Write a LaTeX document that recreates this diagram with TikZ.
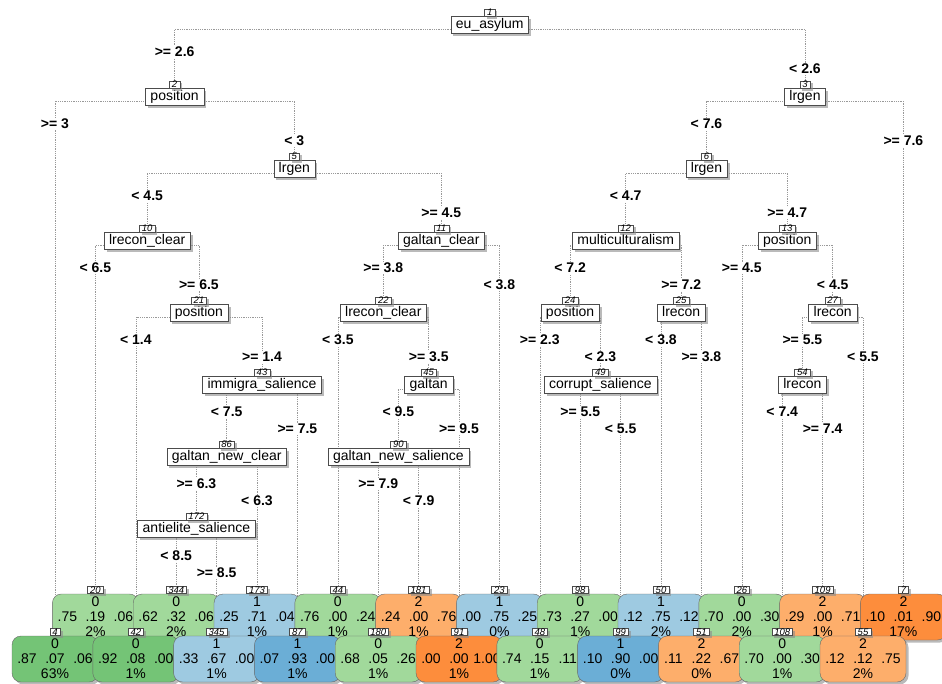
\documentclass[tikz,border=0pt]{standalone}
\usepackage{fontspec}
\setmainfont{Liberation Sans}
\usetikzlibrary{shadows,backgrounds}

\definecolor{greenA}{HTML}{A1D99B}
\definecolor{greenB}{HTML}{74C476}
\definecolor{blueA}{HTML}{9ECAE1}
\definecolor{blueB}{HTML}{6BAED6}
\definecolor{orangeA}{HTML}{FDAE6B}
\definecolor{orangeB}{HTML}{FD8D3C}

\newcommand{\probs}[3]{\makebox[28pt]{#1}\makebox[28pt]{#2}\makebox[28pt]{#3}}

\begin{document}
\begin{tikzpicture}[x=1pt,y=-1pt,font=\fontsize{14}{15}\selectfont,
  boxshadow/.style={drop shadow={shadow xshift=2.5pt,shadow yshift=-2.5pt,fill=black!45,opacity=.6}},
  nodenum/.style={draw=black!70,fill=white,font=\fontsize{9.5}{10}\selectfont\itshape,
    inner xsep=2.5pt,inner ysep=.3pt,boxshadow},
  varbox/.style={draw=black!70,fill=white,inner xsep=5pt,inner ysep=1.5pt,
    text height=10.5pt,text depth=3.5pt,boxshadow,label distance=1.5pt},
  leaf/.style={draw=black!60,rounded corners=9pt,minimum width=86pt,minimum height=46pt,
    inner sep=0pt,align=center,boxshadow,label distance=.5pt},
  cond/.style={fill=white,inner sep=1pt,font=\fontsize{14}{15}\selectfont\bfseries},
  branch/.style={draw=black!40,line width=.6pt,dash pattern=on .6pt off 1.2pt}]
  \useasboundingbox (0,0) rectangle (942,683);

  % split nodes
  \node[varbox,label={[nodenum]above:1}]   (n1)   at (489.8,25)  {eu\_asylum};
  \node[varbox,label={[nodenum]above:2}]   (n2)   at (174.6,97)  {position};
  \node[varbox,label={[nodenum]above:3}]   (n3)   at (805,97)    {lrgen};
  \node[varbox,label={[nodenum]above:5}]   (n5)   at (294.3,169) {lrgen};
  \node[varbox,label={[nodenum]above:6}]   (n6)   at (706.5,169) {lrgen};
  \node[varbox,label={[nodenum]above:10}]  (n10)  at (147.2,241) {lrecon\_clear};
  \node[varbox,label={[nodenum]above:11}]  (n11)  at (441.3,241) {galtan\_clear};
  \node[varbox,label={[nodenum]above:12}]  (n12)  at (625.7,241) {multiculturalism};
  \node[varbox,label={[nodenum]above:13}]  (n13)  at (787.2,241) {position};
  \node[varbox,label={[nodenum]above:21}]  (n21)  at (198.9,313) {position};
  \node[varbox,label={[nodenum]above:22}]  (n22)  at (383.3,313) {lrecon\_clear};
  \node[varbox,label={[nodenum]above:24}]  (n24)  at (570.1,313) {position};
  \node[varbox,label={[nodenum]above:25}]  (n25)  at (681.2,313) {lrecon};
  \node[varbox,label={[nodenum]above:27}]  (n27)  at (832.7,313) {lrecon};
  \node[varbox,label={[nodenum]above:43}]  (n43)  at (262,385)   {immigra\_salience};
  \node[varbox,label={[nodenum]above:45}]  (n45)  at (428.7,385) {galtan};
  \node[varbox,label={[nodenum]above:49}]  (n49)  at (600.4,385) {corrupt\_salience};
  \node[varbox,label={[nodenum]above:54}]  (n54)  at (802.4,385) {lrecon};
  \node[varbox,label={[nodenum]above:86}]  (n86)  at (226.7,457) {galtan\_new\_clear};
  \node[varbox,label={[nodenum]above:90}]  (n90)  at (398.4,457) {galtan\_new\_salience};
  \node[varbox,label={[nodenum]above:172}] (n172) at (196.4,529) {antielite\_salience};

  % leaves, upper row
  \node[leaf,fill=greenA,label={[nodenum]above:20}]   (n20)  at (95.4,617)  {0\\\probs{.75}{.19}{.06}\\2\%};
  \node[leaf,fill=greenA,label={[nodenum]above:344}]  (n344) at (176.2,617) {0\\\probs{.62}{.32}{.06}\\2\%};
  \node[leaf,fill=blueA,label={[nodenum]above:173}]   (n173) at (257,617)   {1\\\probs{.25}{.71}{.04}\\1\%};
  \node[leaf,fill=greenA,label={[nodenum]above:44}]   (n44)  at (337.8,617) {0\\\probs{.76}{.00}{.24}\\1\%};
  \node[leaf,fill=orangeA,label={[nodenum]above:181}] (n181) at (418.6,617) {2\\\probs{.24}{.00}{.76}\\1\%};
  \node[leaf,fill=blueA,label={[nodenum]above:23}]    (n23)  at (499.4,617) {1\\\probs{.00}{.75}{.25}\\0\%};
  \node[leaf,fill=greenA,label={[nodenum]above:98}]   (n98)  at (580.2,617) {0\\\probs{.73}{.27}{.00}\\1\%};
  \node[leaf,fill=blueA,label={[nodenum]above:50}]    (n50)  at (661,617)   {1\\\probs{.12}{.75}{.12}\\2\%};
  \node[leaf,fill=greenA,label={[nodenum]above:26}]   (n26)  at (741.8,617) {0\\\probs{.70}{.00}{.30}\\2\%};
  \node[leaf,fill=orangeA,label={[nodenum]above:109}] (n109) at (822.6,617) {2\\\probs{.29}{.00}{.71}\\1\%};
  \node[leaf,fill=orangeB,label={[nodenum]above:7}]   (n7)   at (903.4,617) {2\\\probs{.10}{.01}{.90}\\17\%};

  % leaves, lower row
  \node[leaf,fill=greenB,label={[nodenum]above:4}]    (n4)   at (55,659)    {0\\\probs{.87}{.07}{.06}\\63\%};
  \node[leaf,fill=greenB,label={[nodenum]above:42}]   (n42)  at (135.8,659) {0\\\probs{.92}{.08}{.00}\\1\%};
  \node[leaf,fill=blueA,label={[nodenum]above:345}]   (n345) at (216.6,659) {1\\\probs{.33}{.67}{.00}\\1\%};
  \node[leaf,fill=blueB,label={[nodenum]above:87}]    (n87)  at (297.4,659) {1\\\probs{.07}{.93}{.00}\\1\%};
  \node[leaf,fill=greenA,label={[nodenum]above:180}]  (n180) at (378.2,659) {0\\\probs{.68}{.05}{.26}\\1\%};
  \node[leaf,fill=orangeB,label={[nodenum]above:91}]  (n91)  at (459,659)   {2\\\probs{.00}{.00}{1.00}\\1\%};
  \node[leaf,fill=greenA,label={[nodenum]above:48}]   (n48)  at (539.8,659) {0\\\probs{.74}{.15}{.11}\\1\%};
  \node[leaf,fill=blueB,label={[nodenum]above:99}]    (n99)  at (620.6,659) {1\\\probs{.10}{.90}{.00}\\0\%};
  \node[leaf,fill=orangeA,label={[nodenum]above:51}]  (n51)  at (701.4,659) {2\\\probs{.11}{.22}{.67}\\0\%};
  \node[leaf,fill=greenA,label={[nodenum]above:108}]  (n108) at (782.2,659) {0\\\probs{.70}{.00}{.30}\\1\%};
  \node[leaf,fill=orangeA,label={[nodenum]above:55}]  (n55)  at (863,659)   {2\\\probs{.12}{.12}{.75}\\2\%};

  % split conditions
  \node[cond] (c2)   at (174.6,52)  {>= 2.6};
  \node[cond] (c3)   at (805,69)    {< 2.6};
  \node[cond] (c4)   at (55,124)    {>= 3};
  \node[cond] (c5)   at (294.3,141) {< 3};
  \node[cond] (c10)  at (147.2,196) {< 4.5};
  \node[cond] (c11)  at (441.3,213) {>= 4.5};
  \node[cond] (c20)  at (95.4,268)  {< 6.5};
  \node[cond] (c21)  at (198.9,285) {>= 6.5};
  \node[cond] (c42)  at (135.8,340) {< 1.4};
  \node[cond] (c43)  at (262,357)   {>= 1.4};
  \node[cond] (c86)  at (226.7,412) {< 7.5};
  \node[cond] (c87)  at (297.4,429) {>= 7.5};
  \node[cond] (c172) at (196.4,484) {>= 6.3};
  \node[cond] (c173) at (257,501)   {< 6.3};
  \node[cond] (c344) at (176.2,556) {< 8.5};
  \node[cond] (c345) at (216.6,573) {>= 8.5};
  \node[cond] (c22)  at (383.3,268) {>= 3.8};
  \node[cond] (c23)  at (499.4,285) {< 3.8};
  \node[cond] (c44)  at (337.8,340) {< 3.5};
  \node[cond] (c45)  at (428.7,357) {>= 3.5};
  \node[cond] (c90)  at (398.4,412) {< 9.5};
  \node[cond] (c91)  at (459,429)   {>= 9.5};
  \node[cond] (c180) at (378.2,484) {>= 7.9};
  \node[cond] (c181) at (418.6,501) {< 7.9};
  \node[cond] (c6)   at (706.5,124) {< 7.6};
  \node[cond] (c7)   at (903.4,141) {>= 7.6};
  \node[cond] (c12)  at (625.7,196) {< 4.7};
  \node[cond] (c13)  at (787.2,213) {>= 4.7};
  \node[cond] (c24)  at (570.1,268) {< 7.2};
  \node[cond] (c25)  at (681.2,285) {>= 7.2};
  \node[cond] (c48)  at (539.8,340) {>= 2.3};
  \node[cond] (c49)  at (600.4,357) {< 2.3};
  \node[cond] (c98)  at (580.2,412) {>= 5.5};
  \node[cond] (c99)  at (620.6,429) {< 5.5};
  \node[cond] (c50)  at (661,340)   {< 3.8};
  \node[cond] (c51)  at (701.4,357) {>= 3.8};
  \node[cond] (c26)  at (741.8,268) {>= 4.5};
  \node[cond] (c27)  at (832.7,285) {< 4.5};
  \node[cond] (c54)  at (802.4,340) {>= 5.5};
  \node[cond] (c55)  at (863,357)   {< 5.5};
  \node[cond] (c108) at (782.2,412) {< 7.4};
  \node[cond] (c109) at (822.6,429) {>= 7.4};

  % branches
  \begin{scope}[on background layer]
  \draw[branch]
    ([yshift=-4pt]n1.west) -| (n2.north)     ([yshift=-4pt]n1.east) -| (n3.north)
    ([yshift=-4pt]n2.west) -| (n4.north)     ([yshift=-4pt]n2.east) -| (n5.north)
    ([yshift=-4pt]n5.west) -| (n10.north)    ([yshift=-4pt]n5.east) -| (n11.north)
    ([yshift=-4pt]n10.west) -| (n20.north)   ([yshift=-4pt]n10.east) -| (n21.north)
    ([yshift=-4pt]n21.west) -| (n42.north)   ([yshift=-4pt]n21.east) -| (n43.north)
    ([yshift=-4pt]n43.west) -| (n86.north)   ([yshift=-4pt]n43.east) -| (n87.north)
    ([yshift=-4pt]n86.west) -| (n172.north)  ([yshift=-4pt]n86.east) -| (n173.north)
    ([yshift=-4pt]n172.west) -| (n344.north) ([yshift=-4pt]n172.east) -| (n345.north)
    ([yshift=-4pt]n11.west) -| (n22.north)   ([yshift=-4pt]n11.east) -| (n23.north)
    ([yshift=-4pt]n22.west) -| (n44.north)   ([yshift=-4pt]n22.east) -| (n45.north)
    ([yshift=-4pt]n45.west) -| (n90.north)   ([yshift=-4pt]n45.east) -| (n91.north)
    ([yshift=-4pt]n90.west) -| (n180.north)  ([yshift=-4pt]n90.east) -| (n181.north)
    ([yshift=-4pt]n3.west) -| (n6.north)     ([yshift=-4pt]n3.east) -| (n7.north)
    ([yshift=-4pt]n6.west) -| (n12.north)    ([yshift=-4pt]n6.east) -| (n13.north)
    ([yshift=-4pt]n12.west) -| (n24.north)   ([yshift=-4pt]n12.east) -| (n25.north)
    ([yshift=-4pt]n24.west) -| (n48.north)   ([yshift=-4pt]n24.east) -| (n49.north)
    ([yshift=-4pt]n49.west) -| (n98.north)   ([yshift=-4pt]n49.east) -| (n99.north)
    ([yshift=-4pt]n25.west) -| (n50.north)   ([yshift=-4pt]n25.east) -| (n51.north)
    ([yshift=-4pt]n13.west) -| (n26.north)   ([yshift=-4pt]n13.east) -| (n27.north)
    ([yshift=-4pt]n27.west) -| (n54.north)   ([yshift=-4pt]n27.east) -| (n55.north)
    ([yshift=-4pt]n54.west) -| (n108.north)  ([yshift=-4pt]n54.east) -| (n109.north);
  \end{scope}
\end{tikzpicture}
\end{document}
